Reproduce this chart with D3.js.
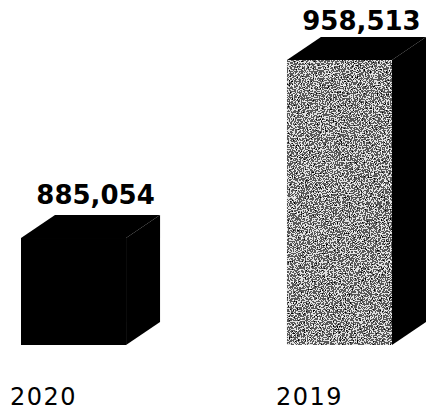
<!DOCTYPE html>
<html><head><meta charset="utf-8">
<script src="https://cdn.jsdelivr.net/npm/d3@7"></script>
<style>html,body{margin:0;padding:0;background:#fff;}svg{display:block;}</style>
</head><body>
<script>
const categories = ["2020", "2019"];
const values = [885054, 958513];
const valueLabels = ["885,054", "958,513"];
const fills = ["solid", "stipple"];

const W = 430, H = 413;
const svg = d3.select("body").append("svg").attr("width", W).attr("height", H);

const defs = svg.append("defs");
const f = defs.append("filter").attr("id", "stipple")
  .attr("x", 0).attr("y", 0).attr("width", 1).attr("height", 1)
  .attr("filterUnits", "objectBoundingBox");
f.append("feTurbulence").attr("type", "fractalNoise").attr("baseFrequency", 0.75)
  .attr("numOctaves", 3).attr("seed", 7).attr("result", "noise");
f.append("feColorMatrix").attr("in", "noise").attr("type", "matrix")
  .attr("values", "0.33 0.33 0.33 0 0  0.33 0.33 0.33 0 0  0.33 0.33 0.33 0 0  0 0 0 0 1")
  .attr("result", "gray");
const ct = f.append("feComponentTransfer").attr("in", "gray").attr("result", "bw");
["feFuncR", "feFuncG", "feFuncB"].forEach(n =>
  ct.append(n).attr("type", "discrete").attr("tableValues", "0 0 0 0.1 0.75 1 1 1"));
f.append("feComposite").attr("in", "bw").attr("in2", "SourceGraphic").attr("operator", "in");

const x = d3.scaleBand().domain(categories).range([21, 392]).paddingInner(0.605).paddingOuter(0);
const y = d3.scaleLinear().domain([840900, 958513]).range([345, 60]);
const bw = x.bandwidth();
const dx = 34, dy = -23;

const g = svg.append("g");
categories.forEach((c, i) => {
  const x0 = x(c), x1 = x0 + bw, yt = y(values[i]), yb = y.range()[0];
  g.append("path").attr("d", `M${x1},${yt}L${x1 + dx},${yt + dy}L${x1 + dx},${yb + dy}L${x1},${yb}Z`).attr("fill", "#000");
  g.append("path").attr("d", `M${x0},${yt}L${x0 + dx},${yt + dy}L${x1 + dx},${yt + dy}L${x1},${yt}Z`).attr("fill", "#000");
  const fr = g.append("rect").attr("x", x0).attr("y", yt).attr("width", bw).attr("height", yb - yt);
  if (fills[i] === "stipple") fr.attr("fill", "#fff").attr("filter", "url(#stipple)");
  else fr.attr("fill", "#000");
  g.append("text").attr("x", x0 + bw / 2 + 22).attr("y", yt - (i === 0 ? 34 : 30))
    .attr("text-anchor", "middle").attr("font-family", "DejaVu Sans").attr("font-weight", "bold")
    .attr("font-size", 26).attr("fill", "#000").text(valueLabels[i]);
  g.append("text").attr("x", x0 + bw / 2 - 30).attr("y", 405)
    .attr("text-anchor", "middle").attr("font-family", "DejaVu Sans")
    .attr("font-size", 24).attr("letter-spacing", 1.5).attr("fill", "#000").text(c);
});
</script>
</body></html>
